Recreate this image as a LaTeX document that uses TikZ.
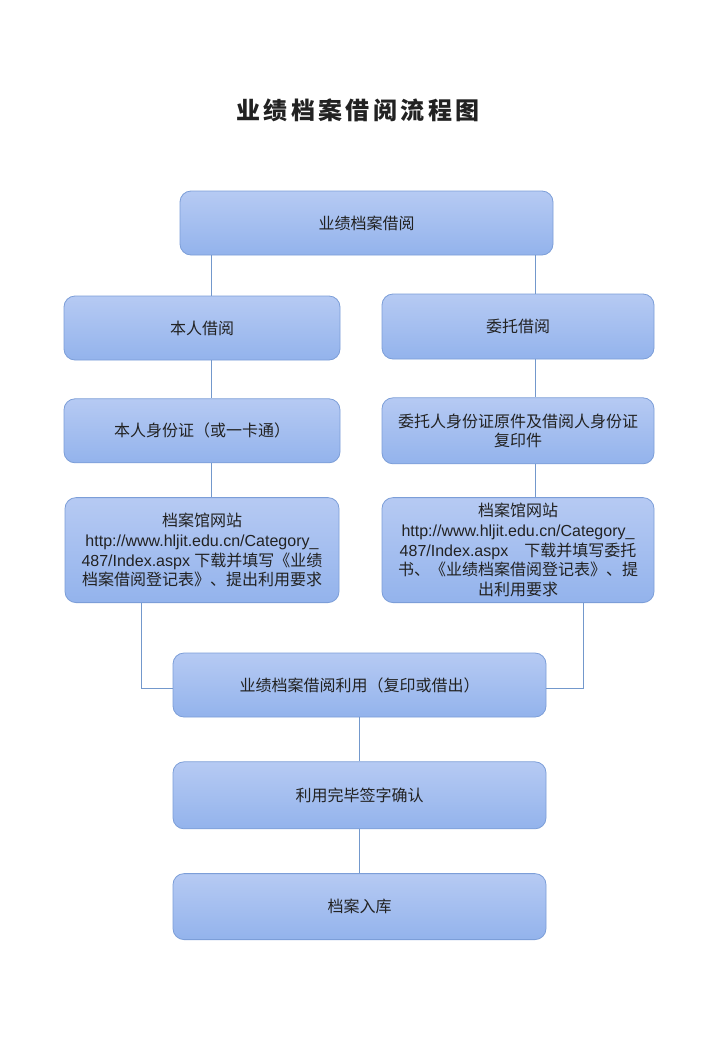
\documentclass[tikz,border=0pt]{standalone}
\usepackage{fontspec}
\setmainfont{Liberation Sans}
\newfontfamily\cjk{Noto Sans CJK SC}
\newfontfamily\cjktitle[LetterSpace=14]{Noto Sans CJK SC}
\usetikzlibrary{positioning}
\definecolor{boxtop}{HTML}{B6CAF3}
\definecolor{boxbot}{HTML}{93B3EC}
\definecolor{boxline}{HTML}{7C9ED8}
\definecolor{linkcol}{HTML}{7398CC}
\definecolor{titlecol}{HTML}{222222}
\tikzset{
  flowbox/.style={draw=boxline, line width=0.8pt, rounded corners=11pt, top color=boxtop, bottom color=boxbot,
    align=center, inner sep=0pt, text=titlecol, font=\cjk\fontsize{16}{19.8}\selectfont},
  link/.style={draw=linkcol, line width=0.8pt}
}
\begin{document}
\begin{tikzpicture}[x=1pt,y=1pt]
		\fill[white] (0,0) rectangle (720,-1039);
		\useasboundingbox (0,0) rectangle (720,-1039);
		
		%title
		\node (title) [font=\cjktitle\bfseries\fontsize{24}{28}\selectfont, text=titlecol] at (358,-110) {业绩档案借阅流程图};
		
		\node (top) [flowbox, minimum width=373, minimum height=64] at (366.5,-223) {业绩档案借阅};
		
		%own borrowing
		\node (self) [flowbox, minimum width=276, minimum height=64] at (202,-328) {本人借阅};
		\node (selfid) [flowbox, minimum width=276, minimum height=64, below = 38pt of self] {本人身份证（或一卡通）};
		\node (selfweb) [flowbox, minimum width=274, minimum height=105, below = 34pt of selfid] {档案馆网站\\
			{\rmfamily http://www.hljit.edu.cn/Category\_}\\
			{\rmfamily 487/Index.aspx }下载并填写《业绩\\
			档案借阅登记表》、提出利用要求};
		
		%proxy borrowing
		\node (proxy) [flowbox, minimum width=272, minimum height=65] at (518,-326.5) {委托借阅};
		\node (proxyid) [flowbox, minimum width=272, minimum height=66, below = 38pt of proxy] {委托人身份证原件及借阅人身份证\\复印件};
		\node (proxyweb) [flowbox, minimum width=272, minimum height=105, below = 33pt of proxyid] {档案馆网站\\
			{\rmfamily http://www.hljit.edu.cn/Category\_}\\
			{\rmfamily 487/Index.aspx\quad}下载并填写委托\\
			书、《业绩档案借阅登记表》、提\\
			出利用要求};
		
		%common steps
		\node (use) [flowbox, minimum width=373, minimum height=64] at (359.5,-685) {业绩档案借阅利用（复印或借出）};
		\node (sign) [flowbox, minimum width=373, minimum height=67, below = 44pt of use] {利用完毕签字确认};
		\node (store) [flowbox, minimum width=373, minimum height=66, below = 44pt of sign] {档案入库};
		
		%connectors
		\coordinate (lx) at (211,0);
		\coordinate (rx) at (535,0);
		\coordinate (lwx) at (141,0);
		\coordinate (rwx) at (583,0);
		
		\draw[link] (top.south -| lx) -- (self.north -| lx);
		\draw[link] (top.south -| rx) -- (proxy.north -| rx);
		\draw[link] (self.south -| lx) -- (selfid.north -| lx);
		\draw[link] (proxy.south -| rx) -- (proxyid.north -| rx);
		\draw[link] (selfid.south -| lx) -- (selfweb.north -| lx);
		\draw[link] (proxyid.south -| rx) -- (proxyweb.north -| rx);
		\draw[link] (selfweb.south -| lwx) |- ([yshift=-3pt]use.west);
		\draw[link] (proxyweb.south -| rwx) |- ([yshift=-3pt]use.east);
		\draw[link] (use) -- (sign);
		\draw[link] (sign) -- (store);
\end{tikzpicture}
\end{document}
